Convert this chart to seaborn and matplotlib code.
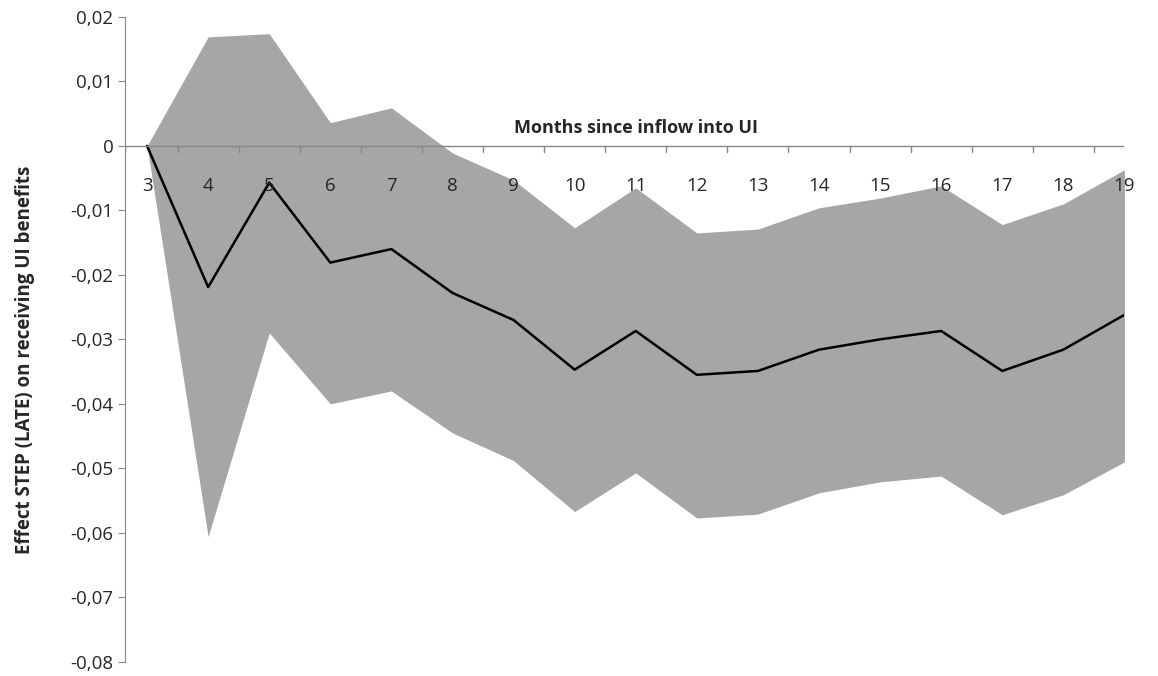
import matplotlib
matplotlib.use("Agg")
import matplotlib.pyplot as plt
import seaborn as sns
import pandas as pd

months = [3, 4, 5, 6, 7, 8, 9, 10, 11, 12, 13, 14, 15, 16, 17, 18, 19]
effect = [0, -0.0219, -0.0057, -0.0181, -0.0160, -0.0228, -0.0270, -0.0347, -0.0287,
          -0.0355, -0.0349, -0.0316, -0.0300, -0.0287, -0.0349, -0.0316, -0.0262]
upper = [0, 0.0169, 0.0174, 0.0036, 0.0059, -0.0011, -0.0053, -0.0127, -0.0065,
         -0.0135, -0.0129, -0.0096, -0.0081, -0.0062, -0.0122, -0.0090, -0.0037]
lower = [0, -0.0606, -0.0290, -0.0400, -0.0380, -0.0445, -0.0488, -0.0567, -0.0507,
         -0.0577, -0.0571, -0.0538, -0.0521, -0.0512, -0.0572, -0.0541, -0.0490]

df = pd.DataFrame({"month": months, "effect": effect, "upper": upper, "lower": lower})

sns.set_style("white")
plt.rcParams['font.family'] = ['Open Sans', 'DejaVu Sans']

fig = plt.figure(figsize=(11.58, 6.76), dpi=100)
ax = fig.add_axes([0.108, 0.021, 0.863, 0.954])
ax.fill_between(df["month"], df["lower"], df["upper"], color="#a6a6a6", linewidth=0)
sns.lineplot(data=df, x="month", y="effect", color="black", linewidth=1.8, ax=ax)

ax.set_xlim(2.64, 19)
ax.set_ylim(-0.08, 0.02)
ax.set_yticks([0.02, 0.01, 0, -0.01, -0.02, -0.03, -0.04, -0.05, -0.06, -0.07, -0.08])
ax.set_yticklabels(["0,02", "0,01", "0", "-0,01", "-0,02", "-0,03", "-0,04", "-0,05",
                    "-0,06", "-0,07", "-0,08"], fontsize=13.5)
ax.tick_params(axis="y", length=5, direction="out", left=True, color="#868686")

for s in ["top", "right", "bottom"]:
    ax.spines[s].set_visible(False)
ax.spines["left"].set_color("#868686")
ax.axhline(0, color="#868686", linewidth=1)
ax.set_xticks([])
for m in months:
    ax.text(m, -0.0062, str(m), ha="center", va="center", fontsize=13.5)
for m in months[:-1]:
    ax.plot([m + 0.5, m + 0.5], [0, -0.0009], color="#868686", linewidth=1)
ax.plot([2.64, 2.64], [0, -0.0009], color="#868686", linewidth=1)
ax.text(11.0, 0.0028, "Months since inflow into UI", ha="center", va="center",
        fontsize=13, fontweight="bold")
ax.set_xlabel("")
ax.set_ylabel("Effect STEP (LATE) on receiving UI benefits", fontsize=13.5, fontweight="bold")
ax.yaxis.set_label_coords(-0.09, 0.468)

fig.savefig("out.png", dpi=100)
